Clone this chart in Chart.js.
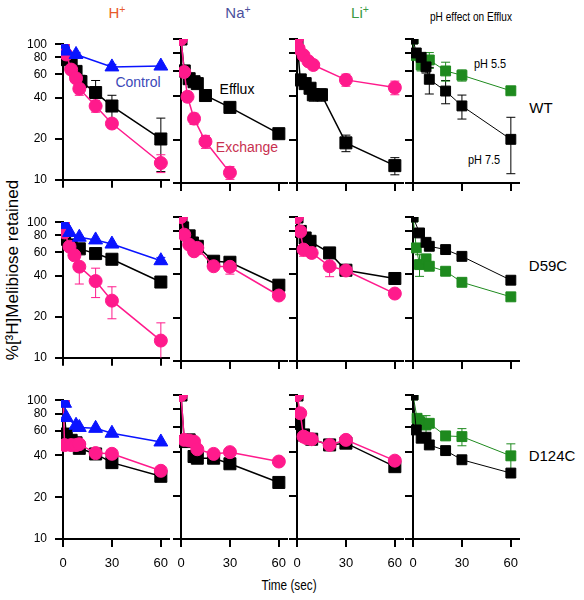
<!DOCTYPE html>
<html>
<head>
<meta charset="utf-8">
<script src="https://cdn.jsdelivr.net/npm/chart.js@4.4.0/dist/chart.umd.min.js"></script>
<style>
  body { margin: 0; background: #fff; width: 584px; height: 600px; position: relative; overflow: hidden;
         font-family: 'Liberation Sans', Arial, sans-serif; }
  canvas.panel { position: absolute; }
  .lbl { position: absolute; white-space: nowrap; line-height: 1; transform: translate(-50%, -50%); }
  .narrow { transform: translate(-50%, -50%) scaleX(0.84); }
  sup { font-size: 0.7em; vertical-align: 0.45em; line-height: 0; }
</style>
</head>
<body>
<div class="lbl" style="left:117px;top:12px;font-size:15px;color:#e85a2a">H<sup>+</sup></div>
<div class="lbl" style="left:238px;top:12px;font-size:15px;color:#4b4f9c">Na<sup>+</sup></div>
<div class="lbl" style="left:360px;top:12px;font-size:15px;color:#3a9a44">Li<sup>+</sup></div>
<div class="lbl narrow" style="left:471px;top:17px;font-size:12px">pH effect on Efflux</div>
<div class="lbl" style="left:138px;top:82px;font-size:14px;color:#3b48b8">Control</div>
<div class="lbl" style="left:237px;top:89px;font-size:14px">Efflux</div>
<div class="lbl" style="left:247px;top:147px;font-size:14px;color:#c8304f">Exchange</div>
<div class="lbl narrow" style="left:490px;top:63px;font-size:13px">pH 5.5</div>
<div class="lbl narrow" style="left:484px;top:159px;font-size:13px">pH 7.5</div>
<div class="lbl" style="left:541px;top:107px;font-size:15px">WT</div>
<div class="lbl" style="left:548px;top:265px;font-size:15px">D59C</div>
<div class="lbl" style="left:552px;top:455px;font-size:15px">D124C</div>
<div class="lbl narrow" style="left:289px;top:585px;font-size:14px">Time (sec)</div>
<div class="lbl" style="left:12px;top:270px;font-size:17px;transform:translate(-50%,-50%) rotate(-90deg)">%[³H]Melibiose retained</div>

<script>
// ---- data (time in sec, % retained, +/- error) ----
const yTicks = [10, 20, 40, 60, 80, 100];
const xTicks = [0, 30, 60];
const rows = ['WT', 'D59C', 'D124C'];
const cols = ['H+', 'Na+', 'Li+', 'pH'];

// WT
const wtH_ctrl_t = [0, 2, 8, 30, 60];
const wtH_ctrl_v = [100, 89, 84, 68, 69];
const wtH_ctrl_e = [0, 0, 3, 3, 0];
const wtH_eff_t = [0, 2, 5, 8, 11, 20, 30, 60];
const wtH_eff_v = [100, 77, 71, 63, 53, 44, 35, 20];
const wtH_eff_e = [0, 0, 3, 4, 6, 10, 7, 8.5];
const wtH_exc_t = [0, 2, 5, 8, 10, 20, 30, 60];
const wtH_exc_v = [100, 84, 65, 56, 47, 35, 26, 13.3];
const wtH_exc_e = [0, 0, 0, 3, 5, 3.5, 0, 2];

const wtNa_eff_t = [0, 2, 5, 8, 10, 15, 30, 60];
const wtNa_eff_v = [100, 60, 53, 50.5, 49, 40.5, 33.5, 22];
const wtNa_eff_e = [0, 4, 2, 2, 0, 0, 0, 0];
const wtNa_exc_t = [0, 2, 4, 8, 15, 30];
const wtNa_exc_v = [100, 59, 39.7, 28, 19.4, 11.8];
const wtNa_exc_e = [0, 3, 3, 2.5, 2, 1.2];

const wtLi_eff_t = [0, 2, 5, 8, 10, 15, 30, 60];
const wtLi_eff_v = [100, 52, 49, 45.5, 41, 41, 19, 13.2];
const wtLi_eff_e = [0, 3, 3, 3, 4, 4, 2.5, 1.8];
const wtLi_exc_t = [0, 1, 4, 7, 10, 30, 60];
const wtLi_exc_v = [100, 86, 77, 70, 66, 52, 46];
const wtLi_exc_e = [0, 0, 5, 0, 0, 5, 5];

const wtPh75_t = [0, 2, 5, 8, 10, 20, 30, 60];
const wtPh75_v = [100, 80, 74.6, 64, 52.5, 43.5, 34.3, 20.1];
const wtPh75_e = [0, 0, 5, 6, 11, 8, 6.5, 8.5];
const wtPh55_t = [0, 1, 5, 10, 20, 30, 60];
const wtPh55_v = [100, 77, 66, 71.5, 60, 56, 43.7];
const wtPh55_e = [0, 0, 6, 9, 9, 5, 0];

// D59C
const d59H_ctrl_t = [0, 1, 4, 10, 20, 30, 60];
const d59H_ctrl_v = [100, 96, 84, 77.5, 74, 69, 52];
const d59H_ctrl_e = [0, 0, 0, 0, 0, 0, 3];
const d59H_eff_t = [0, 1, 5, 10, 20, 30, 60];
const d59H_eff_v = [100, 75, 68, 63.6, 58.7, 53.3, 36.2];
const d59H_eff_e = [0, 0, 0, 0, 0, 3, 2.5];
const d59H_exc_t = [0, 1, 4, 7, 10, 20, 30, 60];
const d59H_exc_v = [100, 84, 66, 57, 47, 36.8, 26.4, 13.4];
const d59H_exc_e = [0, 0, 4, 0, 12, 9, 7, 4.7];

const d59Na_eff_t = [0, 1, 5, 7, 10, 20, 30, 60];
const d59Na_eff_v = [100, 84, 74, 66, 62.6, 49.3, 48.5, 33.6];
const d59Na_eff_e = [0, 0, 0, 0, 0, 0, 0, 0];
const d59Na_exc_t = [0, 2, 5, 8, 10, 20, 30, 60];
const d59Na_exc_v = [100, 75.4, 64.3, 57.8, 61, 45.5, 45.1, 28.5];
const d59Na_exc_e = [0, 0, 3, 0, 6, 0, 5, 0];

const d59Li_eff_t = [0, 2, 5, 8, 20, 30, 60];
const d59Li_eff_v = [100, 79.4, 71.5, 67.8, 56.3, 42.7, 37.4];
const d59Li_eff_e = [0, 0, 0, 0, 0, 0, 0];
const d59Li_exc_t = [0, 2, 4, 9, 20, 30, 60];
const d59Li_exc_v = [100, 79.4, 59.4, 56.3, 45.5, 42.5, 29.4];
const d59Li_exc_e = [0, 0, 6, 4, 7, 0, 0];

const d59Ph75_t = [0, 4, 8, 10, 20, 30, 60];
const d59Ph75_v = [100, 77.5, 66.7, 62.6, 59.4, 53.3, 36.4];
const d59Ph75_e = [0, 0, 0, 0, 0, 0, 2];
const d59Ph55_t = [0, 2, 4, 8, 10, 20, 30, 60];
const d59Ph55_v = [100, 61, 46.7, 51.2, 45.5, 42, 35.2, 27.9];
const d59Ph55_e = [0, 0, 8, 0, 0, 0, 0, 0];

// D124C
const d124H_ctrl_t = [0, 1, 2, 8, 10, 20, 30, 60];
const d124H_ctrl_v = [100, 95, 75, 66, 63.6, 62.7, 57.8, 50];
const d124H_ctrl_e = [0, 0, 0, 0, 0, 0, 0, 0];
const d124H_eff_t = [0, 2, 5, 8, 10, 20, 30, 60];
const d124H_eff_v = [100, 57, 51.4, 49.3, 45, 41, 35.5, 28.3];
const d124H_eff_e = [0, 0, 0, 0, 0, 0, 0, 0];
const d124H_exc_t = [0, 1, 5, 8, 10, 20, 30, 60];
const d124H_exc_v = [100, 47.5, 47.5, 47.5, 48.2, 41.6, 41.1, 31];
const d124H_exc_e = [0, 0, 0, 0, 0, 0, 0, 0];

const d124Na_eff_t = [0, 2, 5, 8, 10, 20, 30, 60];
const d124Na_eff_v = [100, 47.5, 48.8, 37.4, 36.4, 36.4, 33.3, 24.7];
const d124Na_eff_e = [0, 0, 0, 0, 0, 0, 0, 0];
const d124Na_exc_t = [0, 2, 5, 8, 10, 20, 30, 60];
const d124Na_exc_v = [100, 48.8, 48.3, 47.5, 42, 39, 40.1, 34.5];
const d124Na_exc_e = [0, 0, 0, 0, 0, 0, 0, 0];

const d124Li_eff_t = [0, 1, 4, 9, 20, 30, 60];
const d124Li_eff_v = [100, 63.6, 52.8, 49.3, 45, 46.3, 31.8];
const d124Li_eff_e = [0, 0, 0, 0, 0, 0, 0];
const d124Li_exc_t = [0, 2, 4, 6, 9, 20, 30, 60];
const d124Li_exc_v = [100, 74.7, 51.4, 50.1, 49.3, 45, 48.8, 35];
const d124Li_exc_e = [0, 0, 0, 0, 0, 0, 0, 0];

const d124Ph75_t = [0, 2, 5, 8, 10, 20, 30, 60];
const d124Ph75_v = [100, 57.2, 50.1, 50.9, 45, 41.1, 35.5, 28.7];
const d124Ph75_e = [0, 0, 0, 0, 0, 0, 0, 0];
const d124Ph55_t = [0, 2.5, 4, 8, 10, 20, 30, 60];
const d124Ph55_v = [100, 68.9, 65.3, 61.9, 63.6, 52, 51.4, 37.8];
const d124Ph55_e = [0, 0, 6, 10, 0, 0, 7, 8];

// ---- layout ----
const AXIS_X = [63, 181, 297, 413];
const TOP_Y = [39, 217, 395];
const PLOT_W = 106, PLOT_H = 144;
const Y_W = 40, PAD_T = 10, PAD_R = 10;

const STYLE = {
  ctrl: { color: '#0a14ff', pointStyle: 'triangle', radius: 8, width: 1.5, order: 1 },
  eff:  { color: '#000000', pointStyle: 'rect', radius: 8.5, width: 1.5, order: 3 },
  exc:  { color: '#ff1a8c', pointStyle: 'circle', radius: 6.5, width: 1.5, order: 2 },
  ph75: { color: '#000000', pointStyle: 'rect', radius: 7, width: 1, order: 1 },
  ph55: { color: '#1e8a1e', pointStyle: 'rect', radius: 7, width: 1, order: 2 }
};

function series(kind, t, v, e) {
  const s = STYLE[kind];
  return {
    data: t.map((x, i) => ({ x, y: v[i] })),
    errs: e,
    borderColor: s.color,
    backgroundColor: s.color,
    borderWidth: s.width,
    pointStyle: s.pointStyle,
    pointRadius: s.radius,
    pointBorderWidth: 1,
    pointBackgroundColor: s.color,
    pointBorderColor: s.color,
    tension: 0,
    order: s.order,
    clip: { left: 2, top: 0, right: 10, bottom: 0 }
  };
}

const panels = [
  [
    [series('ctrl', wtH_ctrl_t, wtH_ctrl_v, wtH_ctrl_e), series('eff', wtH_eff_t, wtH_eff_v, wtH_eff_e), series('exc', wtH_exc_t, wtH_exc_v, wtH_exc_e)],
    [series('eff', wtNa_eff_t, wtNa_eff_v, wtNa_eff_e), series('exc', wtNa_exc_t, wtNa_exc_v, wtNa_exc_e)],
    [series('eff', wtLi_eff_t, wtLi_eff_v, wtLi_eff_e), series('exc', wtLi_exc_t, wtLi_exc_v, wtLi_exc_e)],
    [series('ph75', wtPh75_t, wtPh75_v, wtPh75_e), series('ph55', wtPh55_t, wtPh55_v, wtPh55_e)]
  ],
  [
    [series('ctrl', d59H_ctrl_t, d59H_ctrl_v, d59H_ctrl_e), series('eff', d59H_eff_t, d59H_eff_v, d59H_eff_e), series('exc', d59H_exc_t, d59H_exc_v, d59H_exc_e)],
    [series('eff', d59Na_eff_t, d59Na_eff_v, d59Na_eff_e), series('exc', d59Na_exc_t, d59Na_exc_v, d59Na_exc_e)],
    [series('eff', d59Li_eff_t, d59Li_eff_v, d59Li_eff_e), series('exc', d59Li_exc_t, d59Li_exc_v, d59Li_exc_e)],
    [series('ph75', d59Ph75_t, d59Ph75_v, d59Ph75_e), series('ph55', d59Ph55_t, d59Ph55_v, d59Ph55_e)]
  ],
  [
    [series('ctrl', d124H_ctrl_t, d124H_ctrl_v, d124H_ctrl_e), series('eff', d124H_eff_t, d124H_eff_v, d124H_eff_e), series('exc', d124H_exc_t, d124H_exc_v, d124H_exc_e)],
    [series('eff', d124Na_eff_t, d124Na_eff_v, d124Na_eff_e), series('exc', d124Na_exc_t, d124Na_exc_v, d124Na_exc_e)],
    [series('eff', d124Li_eff_t, d124Li_eff_v, d124Li_eff_e), series('exc', d124Li_exc_t, d124Li_exc_v, d124Li_exc_e)],
    [series('ph75', d124Ph75_t, d124Ph75_v, d124Ph75_e), series('ph55', d124Ph55_t, d124Ph55_v, d124Ph55_e)]
  ]
];

// error bars drawn through the chart's own scales
const errorBars = {
  id: 'errorBars',
  beforeDatasetsDraw(chart) {
    const { ctx, chartArea: a, scales: { x, y } } = chart;
    ctx.save();
    ctx.beginPath();
    ctx.rect(a.left, a.top, a.right - a.left + 10, a.bottom - a.top);
    ctx.clip();
    chart.data.datasets.forEach(ds => {
      ctx.strokeStyle = ds.borderColor;
      ctx.lineWidth = 1;
      ds.data.forEach((p, i) => {
        const e = ds.errs[i];
        if (!e) return;
        const px = x.getPixelForValue(p.x);
        const hi = y.getPixelForValue(p.y + e);
        const lo = y.getPixelForValue(Math.max(p.y - e, 1));
        ctx.beginPath();
        ctx.moveTo(px, hi); ctx.lineTo(px, lo);
        ctx.moveTo(px - 4.5, hi); ctx.lineTo(px + 4.5, hi);
        ctx.moveTo(px - 4.5, lo); ctx.lineTo(px + 4.5, lo);
        ctx.stroke();
      });
    });
    ctx.restore();
  }
};

const tickFont = { family: "'Liberation Sans', Arial, sans-serif", size: 12 };

function makePanel(row, col) {
  const xh = row === 2 ? 32 : 12;
  const cv = document.createElement('canvas');
  cv.className = 'panel';
  cv.width = Y_W + PLOT_W + PAD_R;
  cv.height = PAD_T + PLOT_H + xh;
  cv.style.left = (AXIS_X[col] - Y_W) + 'px';
  cv.style.top = (TOP_Y[row] - PAD_T) + 'px';
  document.body.appendChild(cv);

  new Chart(cv, {
    type: 'line',
    data: { datasets: panels[row][col] },
    plugins: [errorBars],
    options: {
      responsive: false,
      animation: false,
      layout: { padding: { left: 0, top: PAD_T, right: PAD_R, bottom: 0 } },
      plugins: { legend: { display: false }, tooltip: { enabled: false } },
      scales: {
        x: {
          type: 'linear', min: 0, max: 65,
          afterBuildTicks: s => { s.ticks = xTicks.map(v => ({ value: v })); },
          afterFit: s => { s.height = xh; },
          ticks: { display: row === 2, color: '#000', font: { ...tickFont, size: 13 }, padding: 9, maxRotation: 0 },
          grid: { drawOnChartArea: false, drawTicks: true, tickLength: 8, color: '#000', lineWidth: 2 },
          border: { display: true, color: '#000', width: 2 }
        },
        y: {
          type: 'logarithmic', min: 10, max: 100,
          afterBuildTicks: s => { s.ticks = yTicks.map(v => ({ value: v })); },
          afterFit: s => { s.width = Y_W; },
          ticks: { display: col === 0, color: '#000', font: tickFont, padding: 8, callback: v => String(v) },
          grid: { drawOnChartArea: false, drawTicks: true, tickLength: 8, color: '#000', lineWidth: 2 },
          border: { display: true, color: '#000', width: 2 }
        }
      }
    }
  });
}

rows.forEach((r, ri) => cols.forEach((c, ci) => makePanel(ri, ci)));
</script>
</body>
</html>
